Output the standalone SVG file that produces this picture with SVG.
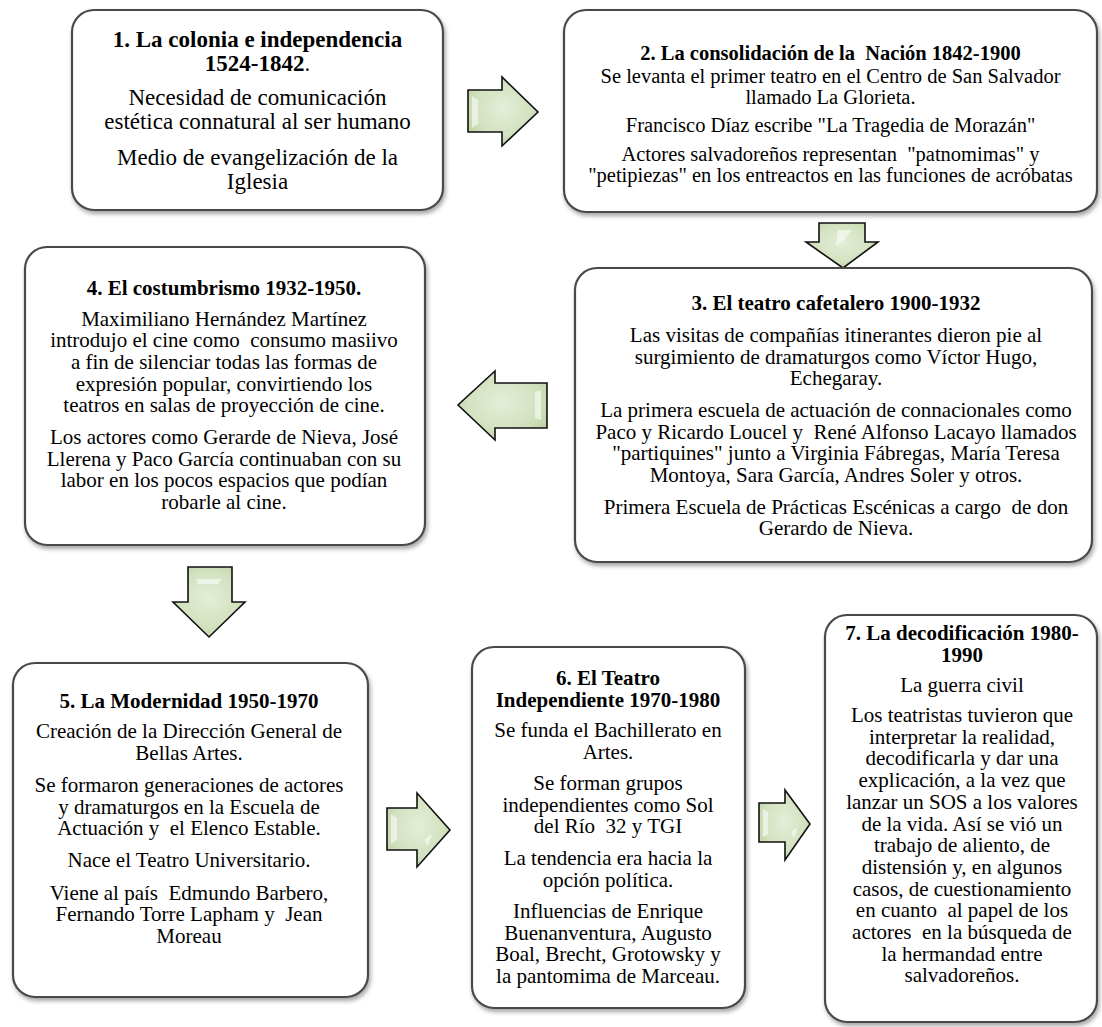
<svg xmlns="http://www.w3.org/2000/svg" width="1102" height="1027" viewBox="0 0 1102 1027">
<style>
.box{fill:#ffffff;stroke:#4a4a4a;stroke-width:2.2}
text{font-family:"Liberation Serif","Times New Roman",serif;fill:#000;text-anchor:middle;white-space:pre}
.t{font-weight:bold}
.f1{font-size:23px}
.f2{font-size:20.5px}
.f3{font-size:21px}
.arr{fill:url(#ag);stroke:#111;stroke-width:1.6;stroke-linejoin:miter}
.hl{fill:#ffffff;opacity:0.55}
</style>
<defs>
<filter id="sh" x="-5%" y="-5%" width="115%" height="115%">
<feDropShadow dx="1.5" dy="3" stdDeviation="2" flood-color="#000" flood-opacity="0.35"/>
</filter>
<radialGradient id="ag" cx="50%" cy="45%" r="65%">
<stop offset="0" stop-color="#e4eed8"/>
<stop offset="0.6" stop-color="#d3e2c0"/>
<stop offset="1" stop-color="#b9cfa2"/>
</radialGradient>
</defs>

<g id="connectors">
<g id="arrow1-2"><polygon class="arr" points="468,90 502,90 502,77 538,112 502,146 502,132 468,132"/><path class="hl" d="M472,96 L478,100 L478,124 L472,128 Z"/></g>
<g id="arrow2-3"><polygon class="arr" points="819,223 865,223 865,242 878,242 843,268 806,242 819,242"/><path class="hl" d="M838,230 L852,230 L844,240 L836,246 Z"/></g>
<g id="arrow3-4"><polygon class="arr" points="547,383 495,383 495,371 458,405 495,440 495,428 547,428"/><path class="hl" d="M535,392 L541,390 L541,420 L535,418 Z"/></g>
<g id="arrow4-5"><polygon class="arr" points="188,567 232,567 232,602 245,602 209,637 173,602 188,602"/><path class="hl" d="M196,579 L222,579 L218,584 L198,584 Z"/></g>
<g id="arrow5-6"><polygon class="arr" points="387,808 417,808 417,793 450,830 417,867 417,850 387,850"/><path class="hl" d="M391,814 L397,818 L397,840 L391,844 Z"/><path class="hl" d="M424,840 L432,834 L428,846 Z"/></g>
<g id="arrow6-7"><polygon class="arr" points="759,803 785,803 785,790 810,824 785,860 785,842 759,842"/><path class="hl" d="M763,809 L768,812 L768,834 L763,837 Z"/><path class="hl" d="M791,832 L798,827 L794,838 Z"/></g>
</g>

<g id="node1">
<rect class="box" x="72" y="10" width="371" height="200" rx="22" filter="url(#sh)"/>
<text class="f1" x="257.5" y="47"><tspan class="t">1. La colonia e independencia</tspan></text>
<text class="f1" x="257.5" y="70.5"><tspan class="t">1524-1842</tspan>.</text>
<text class="f1" x="257.5" y="105">Necesidad de comunicación</text>
<text class="f1" x="257.5" y="128.5">estética connatural al ser humano</text>
<text class="f1" x="257.5" y="165">Medio de evangelización de la</text>
<text class="f1" x="257.5" y="188.5">Iglesia</text>
</g>

<g id="node2">
<rect class="box" x="564" y="10" width="533" height="202" rx="22" filter="url(#sh)"/>
<text class="f2 t" x="830.5" y="60">2. La consolidación de la  Nación 1842-1900</text>
<text class="f2" x="830.5" y="83">Se levanta el primer teatro en el Centro de San Salvador</text>
<text class="f2" x="830.5" y="104">llamado La Glorieta.</text>
<text class="f2" x="830.5" y="131.5">Francisco Díaz escribe "La Tragedia de Morazán"</text>
<text class="f2" x="830.5" y="161">Actores salvadoreños representan  "patnomimas" y</text>
<text class="f2" x="830.5" y="182">"petipiezas" en los entreactos en las funciones de acróbatas</text>
</g>

<g id="node3">
<rect class="box" x="575" y="268" width="517" height="294" rx="22" filter="url(#sh)"/>
<text class="f3 t" x="836" y="310">3. El teatro cafetalero 1900-1932</text>
<text class="f3" x="836" y="342">Las visitas de compañías itinerantes dieron pie al</text>
<text class="f3" x="836" y="363.7">surgimiento de dramaturgos como Víctor Hugo,</text>
<text class="f3" x="836" y="385.4">Echegaray.</text>
<text class="f3" x="836" y="417">La primera escuela de actuación de connacionales como</text>
<text class="f3" x="836" y="438.7">Paco y Ricardo Loucel y  René Alfonso Lacayo llamados</text>
<text class="f3" x="836" y="460.4">"partiquines" junto a Virginia Fábregas, María Teresa</text>
<text class="f3" x="836" y="482.1">Montoya, Sara García, Andres Soler y otros.</text>
<text class="f3" x="836" y="513.5">Primera Escuela de Prácticas Escénicas a cargo  de don</text>
<text class="f3" x="836" y="535.2">Gerardo de Nieva.</text>
</g>

<g id="node4">
<rect class="box" x="25" y="247" width="400" height="298" rx="22" filter="url(#sh)"/>
<text class="f3 t" x="224" y="295">4. El costumbrismo 1932-1950.</text>
<text class="f3" x="224" y="325.5">Maximiliano Hernández Martínez</text>
<text class="f3" x="224" y="347.2">introdujo el cine como  consumo masiivo</text>
<text class="f3" x="224" y="368.9">a fin de silenciar todas las formas de</text>
<text class="f3" x="224" y="390.6">expresión popular, convirtiendo los</text>
<text class="f3" x="224" y="412.3">teatros en salas de proyección de cine.</text>
<text class="f3" x="224" y="444">Los actores como Gerarde de Nieva, José</text>
<text class="f3" x="224" y="465.7">Llerena y Paco García continuaban con su</text>
<text class="f3" x="224" y="487.4">labor en los pocos espacios que podían</text>
<text class="f3" x="224" y="509.1">robarle al cine.</text>
</g>

<g id="node5">
<rect class="box" x="13" y="663" width="355" height="334" rx="22" filter="url(#sh)"/>
<text class="f3 t" x="189" y="708">5. La Modernidad 1950-1970</text>
<text class="f3" x="189" y="738">Creación de la Dirección General de</text>
<text class="f3" x="189" y="759.7">Bellas Artes.</text>
<text class="f3" x="189" y="792">Se formaron generaciones de actores</text>
<text class="f3" x="189" y="813.7">y dramaturgos en la Escuela de</text>
<text class="f3" x="189" y="835.4">Actuación y  el Elenco Estable.</text>
<text class="f3" x="189" y="867.3">Nace el Teatro Universitario.</text>
<text class="f3" x="189" y="899.5">Viene al país  Edmundo Barbero,</text>
<text class="f3" x="189" y="921.2">Fernando Torre Lapham y  Jean</text>
<text class="f3" x="189" y="942.9">Moreau</text>
</g>

<g id="node6">
<rect class="box" x="472" y="647" width="273" height="361" rx="22" filter="url(#sh)"/>
<text class="f3 t" x="608" y="685">6. El Teatro</text>
<text class="f3 t" x="608" y="706.7">Independiente 1970-1980</text>
<text class="f3" x="608" y="737">Se funda el Bachillerato en</text>
<text class="f3" x="608" y="758.7">Artes.</text>
<text class="f3" x="608" y="790">Se forman grupos</text>
<text class="f3" x="608" y="811.7">independientes como Sol</text>
<text class="f3" x="608" y="833.4">del Río  32 y TGI</text>
<text class="f3" x="608" y="865">La tendencia era hacia la</text>
<text class="f3" x="608" y="886.7">opción política.</text>
<text class="f3" x="608" y="918">Influencias de Enrique</text>
<text class="f3" x="608" y="939.7">Buenanventura, Augusto</text>
<text class="f3" x="608" y="961.4">Boal, Brecht, Grotowsky y</text>
<text class="f3" x="608" y="983.1">la pantomima de Marceau.</text>
</g>

<g id="node7">
<rect class="box" x="825" y="615" width="272" height="407" rx="22" filter="url(#sh)"/>
<text class="f3 t" x="962" y="640">7. La decodificación 1980-</text>
<text class="f3 t" x="962" y="661.7">1990</text>
<text class="f3" x="962" y="692">La guerra civil</text>
<text class="f3" x="962" y="722">Los teatristas tuvieron que</text>
<text class="f3" x="962" y="743.7">interpretar la realidad,</text>
<text class="f3" x="962" y="765.4">decodificarla y dar una</text>
<text class="f3" x="962" y="787.1">explicación, a la vez que</text>
<text class="f3" x="962" y="808.8">lanzar un SOS a los valores</text>
<text class="f3" x="962" y="830.5">de la vida. Así se vió un</text>
<text class="f3" x="962" y="852.2">trabajo de aliento, de</text>
<text class="f3" x="962" y="873.9">distensión y, en algunos</text>
<text class="f3" x="962" y="895.6">casos, de cuestionamiento</text>
<text class="f3" x="962" y="917.3">en cuanto  al papel de los</text>
<text class="f3" x="962" y="939">actores  en la búsqueda de</text>
<text class="f3" x="962" y="960.7">la hermandad entre</text>
<text class="f3" x="962" y="982.4">salvadoreños.</text>
</g>
</svg>
